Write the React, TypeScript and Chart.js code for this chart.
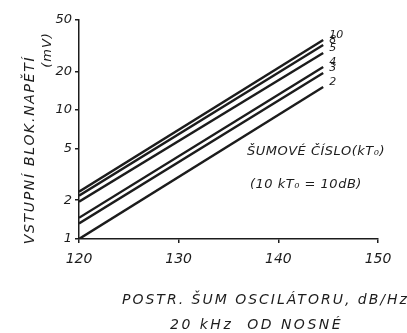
import React, { useEffect, useRef } from "react";
import { Chart, registerables } from "chart.js";

Chart.register(...registerables);

// Oscillator sideband noise, dB/Hz at 20 kHz from carrier
const oscNoise = [120, 144.5];
// Noise figure labels (kT0)
const noiseFigures = ["10", "8", "5", "4", "3", "2"];
// Input blocking voltage (mV) for each noise figure
const v10 = [2.33, 35];
const v8 = [2.17, 32];
const v5 = [1.95, 27.7];
const v4 = [1.46, 21.6];
const v3 = [1.32, 19.4];
const v2 = [1.0, 15.1];
const series = [v10, v8, v5, v4, v3, v2];
const yTicks = [1, 2, 5, 10, 20, 50];
const xTicks = [120, 130, 140, 150];

const INK = "#1c1c1c";
const FONT = "'DejaVu Sans', 'Liberation Sans', sans-serif";

const textPlugin = {
  id: "texts",
  afterDraw(chart: any) {
    const ctx = chart.ctx;
    ctx.save();
    ctx.fillStyle = INK;
    ctx.textBaseline = "middle";
    // line labels
    ctx.font = `italic 11px ${FONT}`;
    ctx.textAlign = "left";
    chart.data.datasets.forEach((ds: any, i: number) => {
      const meta = chart.getDatasetMeta(i);
      const last = meta.data[meta.data.length - 1];
      ctx.fillText(noiseFigures[i], last.x + 6, last.y - 5);
    });
    // annotation
    ctx.font = `italic 13px ${FONT}`;
    ctx.letterSpacing = "0.5px";
    ctx.fillText("ŠUMOVÉ ČÍSLO(kT₀)", 247, 152);
    ctx.fillText("(10 kT₀ = 10dB)", 250, 185);
    // x title
    ctx.font = `italic 14px ${FONT}`;
    ctx.letterSpacing = "2px";
    ctx.fillText("POSTR. ŠUM OSCILÁTORU, dB/Hz", 122, 300);
    ctx.letterSpacing = "2.5px";
    ctx.fillText("20 kHz  OD NOSNÉ", 170, 325);
    // y title
    ctx.save();
    ctx.translate(30, 150);
    ctx.rotate(-Math.PI / 2);
    ctx.textAlign = "center";
    ctx.font = `italic 14px ${FONT}`;
    ctx.letterSpacing = "1.7px";
    ctx.fillText("VSTUPNÍ BLOK.NAPĚTÍ", 0, 0);
    ctx.restore();
    ctx.save();
    ctx.translate(48, 50);
    ctx.rotate(-Math.PI / 2);
    ctx.textAlign = "center";
    ctx.font = `italic 13px ${FONT}`;
    ctx.letterSpacing = "1px";
    ctx.fillText("(mV)", 0, 0);
    ctx.restore();
    ctx.restore();
  },
};

export default function App() {
  const ref = useRef<HTMLCanvasElement>(null);
  useEffect(() => {
    document.body.style.margin = "0";
    const chart = new Chart(ref.current!, {
      type: "line",
      data: {
        datasets: series.map((s, i) => ({
          label: noiseFigures[i],
          data: oscNoise.map((xv, j) => ({ x: xv, y: s[j] })),
          borderColor: INK,
          borderWidth: 2.4,
          pointRadius: 0,
          fill: false,
        })),
      },
      options: {
        animation: false,
        responsive: false,
        layout: { padding: { left: 0, top: 20, right: 29, bottom: 0 } },
        plugins: { legend: { display: false }, tooltip: { enabled: false } },
        scales: {
          x: {
            type: "linear",
            min: 120,
            max: 150,
            afterBuildTicks: (s: any) => {
              s.ticks = xTicks.map((v) => ({ value: v }));
            },
            afterFit: (s: any) => {
              s.height = 94;
            },
            grid: { drawOnChartArea: false, drawTicks: true, tickLength: 4, color: INK, lineWidth: 1.5 },
            border: { display: true, color: INK, width: 1.5 },
            ticks: { color: INK, font: { family: FONT, size: 14, style: "italic" }, padding: 8, maxRotation: 0 },
          },
          y: {
            type: "logarithmic",
            min: 1,
            max: 50,
            afterBuildTicks: (s: any) => {
              s.ticks = yTicks.map((v) => ({ value: v }));
            },
            afterFit: (s: any) => {
              s.width = 79;
            },
            grid: { drawOnChartArea: false, drawTicks: true, tickLength: 4, color: INK, lineWidth: 1.5 },
            border: { display: true, color: INK, width: 1.5 },
            ticks: {
              color: INK,
              font: { family: FONT, size: 13, style: "italic" },
              padding: 3,
              callback: (v: any) => String(v),
            },
          },
        },
      },
      plugins: [textPlugin],
    });
    return () => chart.destroy();
  }, []);
  return (
    <div style={{ position: "fixed", left: 0, top: 0, width: 407, height: 333, background: "#fff" }}>
      <canvas ref={ref} width={407} height={333} style={{ width: 407, height: 333 }} />
    </div>
  );
}
